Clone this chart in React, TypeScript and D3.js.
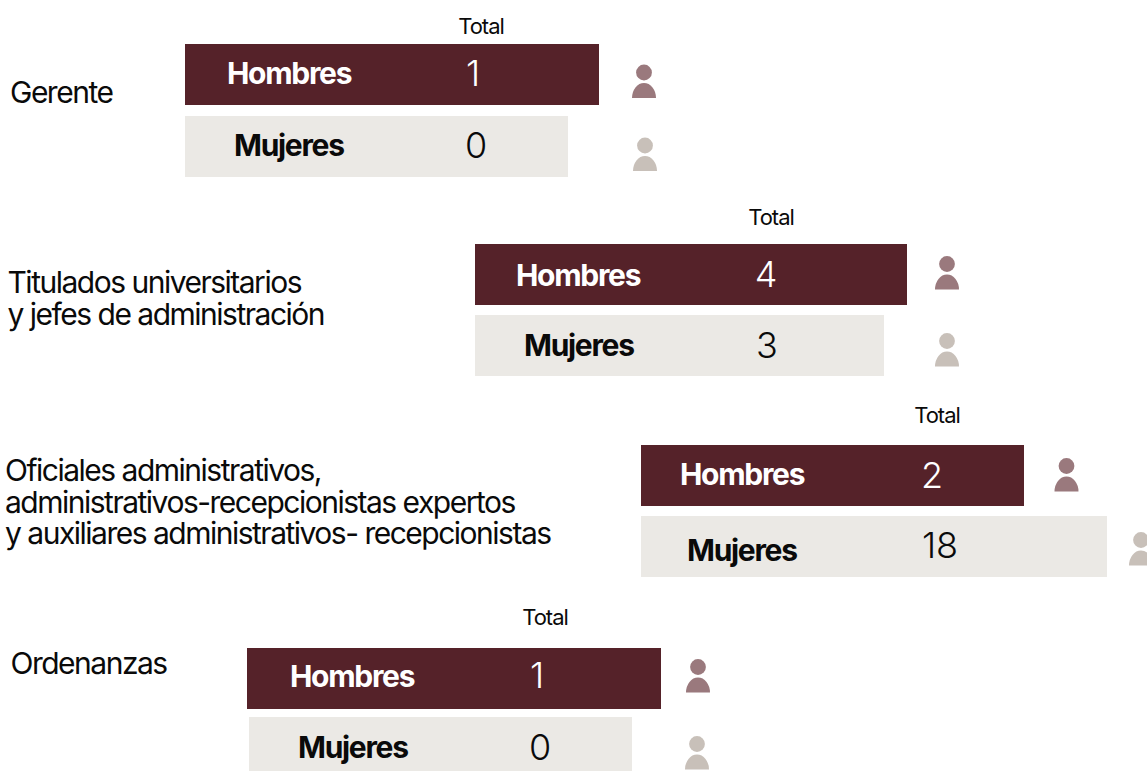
import React from "react";
import * as d3 from "d3";

// data
const categories = ["Gerente", "Titulados", "Oficiales", "Ordenanzas"];
const categoryLines = [
  ["Gerente"],
  ["Titulados universitarios", "y jefes de administración"],
  ["Oficiales administrativos,", "administrativos-recepcionistas expertos", "y auxiliares administrativos- recepcionistas"],
  ["Ordenanzas"],
];
const hombres = [1, 4, 2, 1];
const mujeres = [0, 3, 18, 0];

// layout, bars are not proportional to the values
const WIDTH = 1147;
const HEIGHT = 771;
const byRow = (range: number[]) => d3.scaleOrdinal<string, number>().domain(categories).range(range);
const valueDomain = [0, 1, 2, 3, 4, 18];
const barLength = d3.scaleOrdinal<number, number>().domain(valueDomain).range([383, 414, 383, 409, 432, 466]);

const rowX = byRow([185, 475, 641, 247]);
const rowXM = byRow([185, 475, 641, 249]);
const rowY = byRow([44, 244, 445, 648]);
const rowYM = byRow([116, 315, 516, 717]);
const rowHM = byRow([61, 61, 61, 54]);
const labelX = byRow([10, 7.5, 5, 10.5]);
const labelY = byRow([103, 293, 481, 674]);
const totalX = byRow([481, 771, 937, 545]);
const totalY = byRow([34, 225, 423, 625]);
const nameX = byRow([227, 516, 680, 290]);
const nameXM = byRow([234, 524, 687, 298]);
const nameY = byRow([73, 275, 474, 676]);
const nameYM = byRow([145, 345, 550, 747]);
const valueX = byRow([473, 766, 932, 537]);
const valueXM = byRow([476, 767, 940, 540]);
const valueY = byRow([73, 274, 475, 675]);
const valueYM = byRow([145, 345, 545, 747]);
const iconX = byRow([644, 947, 1066.5, 698]);
const iconXM = byRow([645, 947, 1141, 697]);
const iconY = byRow([72.5, 264, 466, 667]);
const iconYM = byRow([145.5, 341, 540, 744]);

const MAN = "#552229";
const WOMAN = "#ebe9e5";
const MAN_ICON = "#9a797d";
const WOMAN_ICON = "#c8c0b9";
const INK = "#0a0a0a";
const FONT = "Inter, sans-serif";

const Person = ({ x, y, color }: { x: number; y: number; color: string }) => {
  const head = d3.arc()({ innerRadius: 0, outerRadius: 7.9, startAngle: 0, endAngle: 2 * Math.PI });
  const body = d3.arc()({ innerRadius: 0, outerRadius: 12, startAngle: -Math.PI / 2, endAngle: Math.PI / 2 });
  return (
    <g fill={color}>
      <path d={head ?? ""} transform={`translate(${x},${y})`} />
      <path d={body ?? ""} transform={`translate(${x},${y + 25.5}) scale(1,1.25)`} />
    </g>
  );
};

const Bar = ({ x, y, w, h, fill, name, value, text, nx, ny, vx, vy }: any) => (
  <g>
    <rect x={x} y={y} width={w} height={h} fill={fill} />
    <text
      x={nx}
      y={ny}
      fill={text}
      fontFamily={FONT}
      fontSize={30}
      fontWeight={700}
      letterSpacing={-1.3}
      dominantBaseline="central"
    >
      {name}
    </text>
    <text
      x={vx}
      y={vy}
      fill={text}
      fontFamily={FONT}
      fontSize={36}
      fontWeight={300}
      textAnchor="middle"
      dominantBaseline="central"
    >
      {value}
    </text>
  </g>
);

export default function App() {
  return (
    <svg width={WIDTH} height={HEIGHT} style={{ position: "absolute", left: 0, top: 0, display: "block" }}>
      {categories.map((c, i) => (
        <g key={c}>
          {categoryLines[i].map((line, j) => (
            <text
              key={line}
              x={labelX(c)}
              y={labelY(c) + j * 31.5}
              fontFamily={FONT}
              fontSize={30}
              letterSpacing={-1.5}
              fill={INK}
            >
              {line}
            </text>
          ))}
          <text x={totalX(c)} y={totalY(c)} fontFamily={FONT} fontSize={22} letterSpacing={-1} textAnchor="middle" fill={INK}>
            Total
          </text>
          <Bar
            x={rowX(c)}
            y={rowY(c)}
            w={barLength(hombres[i])}
            h={61}
            fill={MAN}
            name="Hombres"
            value={hombres[i]}
            text="#fff"
            nx={nameX(c)}
            ny={nameY(c)}
            vx={valueX(c)}
            vy={valueY(c)}
          />
          <Bar
            x={rowXM(c)}
            y={rowYM(c)}
            w={barLength(mujeres[i])}
            h={rowHM(c)}
            fill={WOMAN}
            name="Mujeres"
            value={mujeres[i]}
            text={INK}
            nx={nameXM(c)}
            ny={nameYM(c)}
            vx={valueXM(c)}
            vy={valueYM(c)}
          />
          <Person x={iconX(c)} y={iconY(c)} color={MAN_ICON} />
          <Person x={iconXM(c)} y={iconYM(c)} color={WOMAN_ICON} />
        </g>
      ))}
    </svg>
  );
}
